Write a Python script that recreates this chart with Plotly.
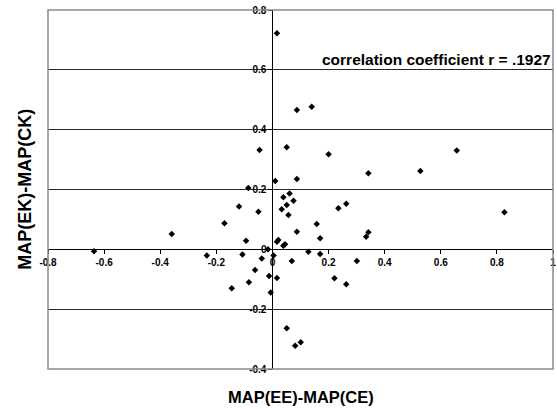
import plotly.graph_objects as go

x_vals = [0.016, -0.046, 0.051, 0.010, 0.087, 0.140, 0.200, 0.087, 0.342, 0.527,
          0.657, -0.086, -0.119, -0.050, -0.171, -0.359, -0.094, -0.636, -0.234, -0.107,
          -0.038, -0.016, 0.004, -0.062, -0.084, -0.145, -0.012, 0.016, -0.006, 0.051,
          0.016, 0.021, 0.039, 0.045, 0.033, 0.039, 0.051, 0.057, 0.061, 0.075,
          0.087, 0.158, 0.170, 0.235, 0.263, 0.334, 0.342, 0.827, 0.069, 0.128,
          0.170, 0.301, 0.221, 0.263, 0.081, 0.101]
y_vals = [0.722, 0.332, 0.341, 0.228, 0.466, 0.477, 0.318, 0.235, 0.254, 0.262,
          0.330, 0.205, 0.143, 0.126, 0.087, 0.051, 0.029, -0.006, -0.021, -0.017,
          -0.031, 0.000, -0.021, -0.069, -0.110, -0.130, -0.089, -0.096, -0.144, -0.264,
          0.025, 0.031, 0.012, 0.017, 0.134, 0.174, 0.148, 0.115, 0.187, 0.162,
          0.059, 0.085, 0.037, 0.137, 0.152, 0.042, 0.057, 0.124, -0.039, -0.008,
          -0.016, -0.039, -0.097, -0.117, -0.322, -0.311]

x_ticks = [-0.8, -0.6, -0.4, -0.2, 0, 0.2, 0.4, 0.6, 0.8, 1]
x_tick_text = ["-0.8", "-0.6", "-0.4", "-0.2", "0", "0.2", "0.4", "0.6", "0.8", "1"]
y_ticks = [-0.4, -0.2, 0, 0.2, 0.4, 0.6, 0.8]
y_tick_text = ["-0.4", "-0.2", "0", "0.2", "0.4", "0.6", "0.8"]

x_title = "MAP(EE)-MAP(CE)"
y_title = "MAP(EK)-MAP(CK)"
note = "correlation coefficient r = .1927"

XMIN, XMAX = -0.8, 1.0
YMIN, YMAX = -0.4, 0.8

font_family = "Liberation Sans, Arial, sans-serif"

fig = go.Figure()
fig.add_trace(go.Scatter(
    x=x_vals, y=y_vals, mode="markers",
    marker=dict(symbol="diamond", size=5, color="black"),
    showlegend=False, cliponaxis=False,
))

fig.update_layout(
    template="none",
    width=557, height=409,
    margin=dict(l=48, r=4, t=10, b=40, autoexpand=False),
    paper_bgcolor="white", plot_bgcolor="white",
    font=dict(family=font_family, color="black"),
    xaxis=dict(
        range=[XMIN, XMAX], tickvals=x_ticks, ticktext=x_tick_text,
        anchor="free", position=(0 - YMIN) / (YMAX - YMIN), automargin=False,
        showline=True, linecolor="black", linewidth=1,
        ticks="outside", ticklen=4, tickcolor="black",
        showgrid=False, zeroline=False,
        tickfont=dict(size=10, weight="bold", family=font_family),
    ),
    yaxis=dict(
        range=[YMIN, YMAX], tickvals=y_ticks, ticktext=y_tick_text,
        anchor="free", position=(0 - XMIN) / (XMAX - XMIN), automargin=False,
        showline=True, linecolor="black", linewidth=1,
        ticks="outside", ticklen=4, tickcolor="black",
        showgrid=True, gridcolor="#2a2a2a", gridwidth=1, zeroline=False,
        tickfont=dict(size=10, weight="bold", family=font_family),
    ),
    shapes=[dict(type="rect", xref="paper", yref="paper", x0=0, x1=1, y0=0, y1=1,
                 line=dict(color="#8a8a8a", width=1.5), layer="above")],
    annotations=[
        dict(text=note, xref="paper", x=1, xanchor="right", yref="y", y=0.633,
             yanchor="middle", showarrow=False,
             font=dict(size=15.5, weight="bold", family=font_family)),
        dict(text=x_title, xref="paper", x=0.5, xanchor="center", yref="paper", y=-0.077,
             yanchor="middle", showarrow=False,
             font=dict(size=16.5, weight="bold", family=font_family)),
        dict(text=y_title, xref="paper", x=-0.047, xanchor="center", yref="paper", y=0.5,
             yanchor="middle", showarrow=False, textangle=-90,
             font=dict(size=18, weight="bold", family=font_family)),
    ],
)

fig.write_html("out.html", config={"displayModeBar": False},
               post_script="document.body.style.margin='0';")
